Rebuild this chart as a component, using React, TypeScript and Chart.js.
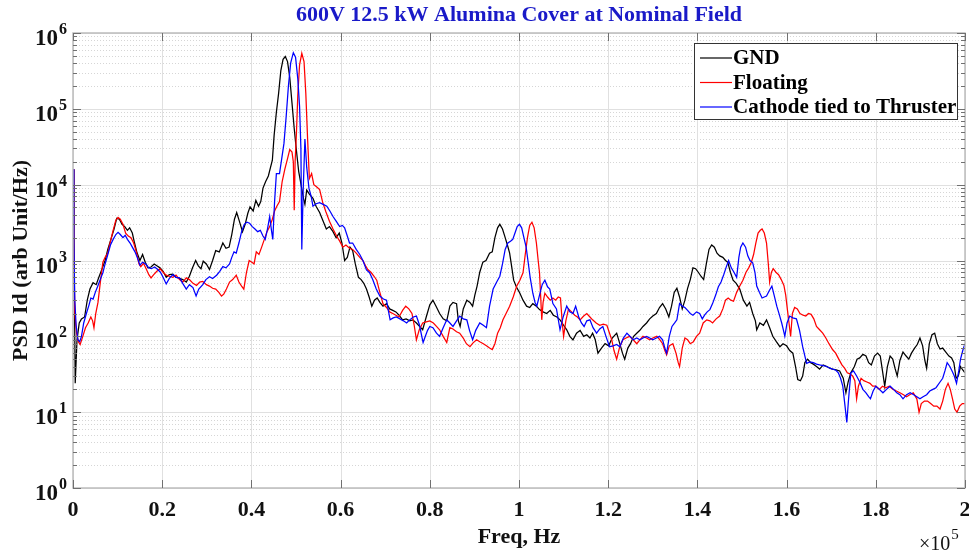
import React, { useEffect, useRef } from 'react';
import { Chart, registerables } from 'chart.js';

Chart.register(...registerables);

// ---- Data (frequency in units of 1e5 Hz, PSD in arb. units) ----
const gndFreq = [
  0, 0.002, 0.005, 0.009, 0.014, 0.019, 0.026, 0.032, 0.038, 0.045, 0.052, 0.058, 0.067, 0.072, 0.078, 0.085, 0.092, 0.098,
  0.104, 0.11, 0.116, 0.122, 0.127, 0.133, 0.138, 0.143, 0.15, 0.156, 0.162, 0.168, 0.175, 0.182, 0.188, 0.195, 0.202, 0.209,
  0.216, 0.224, 0.231, 0.239, 0.246, 0.254, 0.261, 0.268, 0.275, 0.281, 0.287, 0.292, 0.299, 0.306, 0.313, 0.32, 0.328, 0.336,
  0.343, 0.35, 0.356, 0.362, 0.367, 0.373, 0.38, 0.386, 0.392, 0.397, 0.404, 0.41, 0.416, 0.421, 0.426, 0.432, 0.438, 0.443,
  0.447, 0.451, 0.456, 0.461, 0.466, 0.471, 0.476, 0.481, 0.486, 0.491, 0.496, 0.501, 0.506, 0.512, 0.517, 0.52, 0.524, 0.53,
  0.538, 0.545, 0.553, 0.56, 0.568, 0.575, 0.583, 0.59, 0.597, 0.603, 0.609, 0.615, 0.621, 0.627, 0.633, 0.64, 0.646, 0.652,
  0.658, 0.664, 0.67, 0.676, 0.682, 0.688, 0.695, 0.703, 0.71, 0.717, 0.724, 0.731, 0.739, 0.747, 0.755, 0.762, 0.77, 0.777,
  0.784, 0.792, 0.8, 0.807, 0.814, 0.822, 0.83, 0.838, 0.845, 0.852, 0.86, 0.864, 0.868, 0.875, 0.883, 0.89, 0.896, 0.901,
  0.906, 0.912, 0.919, 0.926, 0.934, 0.94, 0.946, 0.952, 0.957, 0.963, 0.968, 0.974, 0.979, 0.984, 0.988, 0.994, 1.002, 1.009,
  1.017, 1.024, 1.031, 1.039, 1.046, 1.054, 1.062, 1.07, 1.077, 1.085, 1.092, 1.1, 1.107, 1.114, 1.121, 1.129, 1.137, 1.145,
  1.152, 1.159, 1.165, 1.171, 1.177, 1.185, 1.193, 1.201, 1.209, 1.219, 1.226, 1.232, 1.237, 1.244, 1.25, 1.257, 1.264, 1.271,
  1.278, 1.286, 1.293, 1.3, 1.308, 1.315, 1.322, 1.329, 1.336, 1.342, 1.348, 1.354, 1.36, 1.366, 1.372, 1.378, 1.384, 1.39,
  1.396, 1.402, 1.408, 1.414, 1.42, 1.426, 1.432, 1.438, 1.444, 1.45, 1.457, 1.463, 1.468, 1.474, 1.48, 1.487, 1.495, 1.503,
  1.511, 1.517, 1.524, 1.53, 1.533, 1.54, 1.548, 1.555, 1.562, 1.569, 1.577, 1.585, 1.592, 1.6, 1.607, 1.614, 1.62, 1.625,
  1.631, 1.636, 1.641, 1.647, 1.654, 1.66, 1.667, 1.674, 1.682, 1.69, 1.697, 1.703, 1.711, 1.719, 1.727, 1.733, 1.738, 1.744,
  1.752, 1.758, 1.764, 1.771, 1.778, 1.784, 1.79, 1.797, 1.804, 1.81, 1.815, 1.82, 1.826, 1.832, 1.838, 1.843, 1.848, 1.854,
  1.861, 1.868, 1.874, 1.88, 1.887, 1.893, 1.899, 1.905, 1.91, 1.914, 1.92, 1.926, 1.932, 1.938, 1.944, 1.95, 1.957, 1.964,
  1.97, 1.975, 1.98, 1.985, 1.99, 1.995, 2.0,
];
const gndPsd = [
  16000, 2000, 24, 90, 150, 170, 180, 300, 420, 510, 480, 600, 830, 1000, 1400, 1900, 2600, 3600,
  3500, 3000, 2800, 2500, 2700, 2300, 1700, 1300, 1000, 1200, 950, 800, 820, 900, 850, 800, 720, 600,
  650, 660, 600, 580, 560, 520, 620, 800, 1000, 850, 780, 980, 900, 760, 1000, 1350, 1300, 1700,
  1450, 1500, 2200, 3500, 4300, 3300, 2400, 3000, 4200, 5100, 4500, 6200, 5200, 6000, 9000, 11000, 13000, 17000,
  21000, 45000, 90000, 160000, 320000, 450000, 490000, 420000, 260000, 120000, 55000, 28000, 15000, 9500, 6500, 5500, 8500, 7500,
  6600, 5200, 4300, 3400, 2600, 2800, 2400, 2000, 2300, 1700, 1000, 1100, 1500, 1350, 900, 600, 560, 500,
  420, 330, 250, 300, 320, 280, 250, 270, 230, 220, 210, 190, 165, 170, 160, 165, 150, 135,
  122, 180, 260, 300, 250, 200, 170, 160, 250, 280, 270, 160, 135, 230, 300, 280, 250, 350,
  460, 700, 950, 1000, 1250, 1300, 2000, 2700, 3000, 2600, 2100, 1600, 1250, 800, 550, 450, 370, 300,
  250, 240, 270, 250, 225, 210, 200, 220, 190, 180, 165, 140, 122, 100, 90, 110, 120, 100,
  105, 95, 110, 90, 60, 70, 80, 75, 95, 110, 80, 60, 50, 70, 80, 100, 110, 120,
  135, 150, 170, 185, 200, 240, 270, 230, 180, 250, 380, 430, 330, 230, 300, 430, 560, 800,
  780, 700, 620, 560, 900, 1400, 1600, 1500, 1250, 1150, 1100, 1000, 950, 700, 550, 500, 420, 300,
  250, 280, 200, 160, 122, 150, 140, 165, 130, 100, 85, 73, 80, 75, 65, 60, 40, 27,
  26, 30, 45, 50, 45, 43, 40, 37, 42, 40, 38, 37, 36, 35, 28, 18, 25, 33,
  40, 50, 52, 58, 55, 45, 42, 55, 60, 55, 35, 22, 40, 55, 50, 38, 30, 48,
  62, 55, 50, 60, 70, 78, 95, 75, 48, 38, 80, 105, 110, 80, 68, 70, 62, 55,
  52, 45, 28, 30, 40, 36, 33,
];

const floatFreq = [
  0, 0.002, 0.004, 0.008, 0.012, 0.016, 0.022, 0.028, 0.034, 0.04, 0.044, 0.047, 0.051, 0.056, 0.061, 0.067, 0.072, 0.078,
  0.084, 0.09, 0.096, 0.101, 0.106, 0.112, 0.118, 0.124, 0.13, 0.136, 0.142, 0.148, 0.152, 0.158, 0.164, 0.17, 0.175, 0.181,
  0.188, 0.195, 0.202, 0.209, 0.216, 0.224, 0.231, 0.239, 0.246, 0.254, 0.261, 0.269, 0.277, 0.284, 0.291, 0.299, 0.306, 0.313,
  0.32, 0.327, 0.333, 0.338, 0.344, 0.351, 0.358, 0.366, 0.372, 0.378, 0.383, 0.389, 0.395, 0.401, 0.406, 0.411, 0.417, 0.423,
  0.429, 0.435, 0.441, 0.447, 0.452, 0.457, 0.463, 0.469, 0.475, 0.481, 0.486, 0.491, 0.494, 0.496, 0.498, 0.501, 0.504, 0.508,
  0.513, 0.518, 0.522, 0.526, 0.53, 0.535, 0.54, 0.546, 0.553, 0.56, 0.567, 0.575, 0.583, 0.591, 0.598, 0.605, 0.612, 0.62,
  0.627, 0.635, 0.643, 0.65, 0.656, 0.661, 0.668, 0.675, 0.681, 0.688, 0.695, 0.703, 0.71, 0.717, 0.724, 0.731, 0.739, 0.746,
  0.753, 0.76, 0.765, 0.77, 0.776, 0.784, 0.792, 0.8, 0.808, 0.815, 0.822, 0.83, 0.838, 0.845, 0.852, 0.86, 0.867, 0.875,
  0.882, 0.89, 0.897, 0.905, 0.912, 0.92, 0.927, 0.934, 0.94, 0.946, 0.952, 0.958, 0.964, 0.971, 0.979, 0.987, 0.995, 1.002,
  1.009, 1.014, 1.019, 1.024, 1.029, 1.034, 1.039, 1.043, 1.046, 1.049, 1.051, 1.054, 1.058, 1.064, 1.07, 1.076, 1.082, 1.088,
  1.093, 1.097, 1.1, 1.105, 1.111, 1.118, 1.125, 1.131, 1.137, 1.145, 1.152, 1.159, 1.165, 1.173, 1.181, 1.189, 1.197, 1.203,
  1.208, 1.213, 1.219, 1.225, 1.233, 1.24, 1.248, 1.256, 1.264, 1.271, 1.278, 1.286, 1.293, 1.3, 1.309, 1.316, 1.322, 1.327,
  1.331, 1.337, 1.345, 1.352, 1.357, 1.36, 1.366, 1.372, 1.378, 1.384, 1.391, 1.398, 1.405, 1.413, 1.421, 1.428, 1.434, 1.442,
  1.45, 1.457, 1.463, 1.469, 1.475, 1.481, 1.488, 1.495, 1.502, 1.509, 1.515, 1.521, 1.526, 1.531, 1.536, 1.541, 1.545, 1.55,
  1.555, 1.559, 1.562, 1.566, 1.57, 1.576, 1.582, 1.588, 1.594, 1.598, 1.602, 1.606, 1.609, 1.613, 1.618, 1.624, 1.63, 1.637,
  1.643, 1.649, 1.655, 1.661, 1.667, 1.674, 1.681, 1.688, 1.695, 1.703, 1.71, 1.717, 1.724, 1.73, 1.736, 1.742, 1.748, 1.753,
  1.757, 1.761, 1.767, 1.773, 1.78, 1.787, 1.793, 1.8, 1.808, 1.815, 1.822, 1.83, 1.838, 1.846, 1.854, 1.862, 1.869, 1.876,
  1.884, 1.892, 1.897, 1.902, 1.909, 1.916, 1.923, 1.93, 1.937, 1.944, 1.95, 1.956, 1.962, 1.967, 1.972, 1.977, 1.982, 1.988,
  1.994, 2.0,
];
const floatPsd = [
  16000, 1500, 200, 110, 85, 78, 100, 130, 150, 180, 160, 130, 200, 280, 500, 950, 1100, 1250,
  1800, 2500, 3400, 3700, 3500, 3000, 2300, 2100, 2000, 1700, 1300, 900, 830, 920, 780, 650, 590, 650,
  720, 780, 700, 640, 620, 600, 640, 560, 520, 590, 560, 500, 470, 520, 530, 480, 460, 430,
  420, 380, 340, 360, 420, 520, 560, 640, 520, 460, 420, 700, 1000, 950, 900, 1300, 1200, 1500,
  1900, 2400, 2800, 3500, 4500, 5200, 6000, 11000, 16000, 22000, 29000, 27000, 20000, 4600, 20000, 48000, 150000, 380000,
  540000, 420000, 160000, 40000, 12000, 14000, 10000, 9400, 8600, 5800, 4400, 3300, 2600, 2100, 1800, 1500, 1600, 1450,
  1400, 1250, 1100, 1000, 850, 760, 700, 620, 550, 380, 270, 240, 210, 200, 190, 180, 220, 250,
  230, 200, 140, 90, 120, 150, 155, 160, 150, 135, 122, 100, 83, 130, 125, 115, 110, 95,
  80, 73, 82, 90, 85, 80, 75, 70, 67, 80, 110, 130, 165, 200, 250, 330, 460, 550,
  690, 1200, 2000, 2900, 3200, 2700, 1700, 1000, 690, 300, 165, 280, 370, 330, 300, 320, 300, 330,
  320, 150, 100, 160, 230, 210, 190, 180, 165, 185, 200, 180, 165, 150, 140, 145, 140, 110,
  90, 65, 50, 70, 90, 95, 100, 90, 80, 90, 100, 95, 90, 95, 100, 90, 80, 65,
  57, 75, 80, 60, 45, 40, 70, 95, 90, 80, 85, 100, 110, 150, 165, 160, 150, 170,
  185, 230, 300, 320, 300, 290, 380, 460, 550, 700, 800, 950, 1200, 1700, 2300, 2500, 2600, 2300,
  1700, 900, 520, 700, 780, 700, 650, 560, 470, 350, 220, 140, 100, 200, 240, 230, 200, 190,
  185, 200, 195, 170, 135, 122, 110, 95, 80, 67, 60, 50, 42, 38, 33, 32, 30, 26,
  15, 22, 28, 26, 25, 24, 22, 22, 20, 22, 21, 22, 20, 19, 18, 17, 16, 17,
  18, 15, 10, 13, 14, 14, 13, 12, 12, 11, 14, 20, 24, 20, 15, 11, 10, 12,
  13, 13,
];

const cathFreq = [
  0, 0.002, 0.004, 0.007, 0.011, 0.015, 0.019, 0.024, 0.03, 0.036, 0.04, 0.045, 0.05, 0.055, 0.061, 0.067, 0.072, 0.078,
  0.084, 0.09, 0.096, 0.101, 0.106, 0.112, 0.117, 0.122, 0.128, 0.133, 0.139, 0.144, 0.15, 0.156, 0.163, 0.17, 0.176, 0.183,
  0.19, 0.196, 0.202, 0.209, 0.216, 0.224, 0.231, 0.239, 0.246, 0.254, 0.261, 0.269, 0.273, 0.276, 0.282, 0.291, 0.298, 0.306,
  0.313, 0.322, 0.329, 0.336, 0.343, 0.351, 0.356, 0.361, 0.366, 0.372, 0.378, 0.384, 0.39, 0.396, 0.402, 0.408, 0.414, 0.42,
  0.426, 0.431, 0.436, 0.441, 0.445, 0.448, 0.452, 0.456, 0.463, 0.468, 0.473, 0.478, 0.483, 0.488, 0.494, 0.499, 0.504, 0.508,
  0.511, 0.513, 0.516, 0.52, 0.524, 0.529, 0.534, 0.538, 0.545, 0.553, 0.561, 0.569, 0.576, 0.583, 0.59, 0.598, 0.604, 0.609,
  0.615, 0.62, 0.627, 0.635, 0.643, 0.65, 0.658, 0.665, 0.672, 0.68, 0.688, 0.696, 0.703, 0.707, 0.711, 0.718, 0.725, 0.733,
  0.741, 0.748, 0.755, 0.763, 0.77, 0.777, 0.782, 0.785, 0.79, 0.795, 0.8, 0.807, 0.815, 0.822, 0.83, 0.838, 0.845, 0.852,
  0.86, 0.867, 0.875, 0.883, 0.889, 0.896, 0.903, 0.912, 0.92, 0.927, 0.934, 0.942, 0.95, 0.957, 0.963, 0.969, 0.975, 0.981,
  0.986, 0.991, 0.996, 1.001, 1.006, 1.011, 1.016, 1.02, 1.025, 1.031, 1.036, 1.04, 1.046, 1.052, 1.058, 1.064, 1.069, 1.076,
  1.084, 1.092, 1.099, 1.107, 1.114, 1.121, 1.127, 1.134, 1.14, 1.146, 1.152, 1.159, 1.166, 1.174, 1.181, 1.188, 1.195, 1.203,
  1.211, 1.219, 1.226, 1.234, 1.242, 1.249, 1.256, 1.264, 1.271, 1.278, 1.286, 1.293, 1.3, 1.308, 1.315, 1.322, 1.327, 1.331,
  1.337, 1.343, 1.349, 1.354, 1.36, 1.366, 1.372, 1.378, 1.384, 1.39, 1.398, 1.405, 1.411, 1.416, 1.422, 1.428, 1.434, 1.441,
  1.447, 1.453, 1.459, 1.465, 1.47, 1.476, 1.482, 1.488, 1.493, 1.497, 1.502, 1.508, 1.513, 1.518, 1.524, 1.529, 1.533, 1.539,
  1.545, 1.55, 1.555, 1.561, 1.567, 1.572, 1.578, 1.584, 1.589, 1.593, 1.596, 1.601, 1.607, 1.614, 1.622, 1.629, 1.636, 1.641,
  1.645, 1.652, 1.66, 1.667, 1.674, 1.682, 1.69, 1.697, 1.703, 1.71, 1.716, 1.721, 1.726, 1.731, 1.735, 1.739, 1.744, 1.75,
  1.757, 1.764, 1.771, 1.778, 1.784, 1.788, 1.794, 1.8, 1.808, 1.816, 1.824, 1.832, 1.84, 1.847, 1.854, 1.861, 1.869, 1.877,
  1.885, 1.892, 1.899, 1.906, 1.914, 1.921, 1.928, 1.935, 1.944, 1.95, 1.955, 1.96, 1.966, 1.971, 1.976, 1.981, 1.986, 1.99,
  1.995, 2.0,
];
const cathPsd = [
  16000, 1800, 300, 140, 90, 85, 100, 150, 200, 260, 320, 310, 380, 450, 560, 690, 900, 1200,
  1600, 1900, 2200, 2350, 2200, 2000, 2150, 1900, 1700, 1500, 1300, 1100, 870, 950, 900, 800, 780, 820,
  760, 700, 600, 490, 580, 650, 600, 590, 500, 420, 480, 440, 380, 340, 420, 480, 560, 610,
  580, 640, 720, 830, 800, 900, 1100, 1300, 1250, 1700, 2400, 3000, 3200, 3100, 2800, 2600, 2400, 2500,
  2100, 1900, 2600, 3800, 2500, 1900, 6000, 14000, 14000, 22000, 35000, 80000, 200000, 400000, 550000, 480000, 250000, 107000,
  30000, 1400, 8000, 40000, 17000, 9000, 7000, 5200, 5600, 5800, 5500, 5200, 4500, 3800, 3300, 2800, 2900, 2700,
  2100, 1700, 1700, 1400, 1200, 1000, 750, 690, 560, 420, 340, 310, 300, 220, 165, 175, 180, 170,
  160, 150, 165, 180, 185, 140, 100, 83, 100, 120, 135, 130, 110, 100, 130, 165, 150, 135,
  160, 185, 170, 165, 120, 90, 120, 150, 140, 130, 250, 420, 520, 620, 900, 1400, 1700, 1800,
  1900, 2300, 2800, 3000, 2700, 2000, 1500, 1000, 600, 370, 280, 250, 350, 480, 550, 450, 420, 270,
  230, 122, 180, 250, 210, 200, 250, 180, 150, 135, 160, 165, 130, 110, 125, 135, 100, 73,
  75, 78, 73, 95, 110, 100, 90, 95, 90, 95, 100, 95, 90, 95, 100, 90, 70, 60,
  100, 135, 150, 165, 270, 250, 240, 220, 200, 190, 210, 200, 170, 190, 210, 225, 270, 350,
  450, 520, 650, 830, 1000, 800, 700, 600, 1100, 1500, 1700, 1500, 1150, 1000, 930, 700, 460, 380,
  320, 330, 340, 400, 460, 350, 250, 190, 150, 120, 100, 150, 185, 175, 170, 120, 73, 55,
  44, 46, 45, 43, 42, 41, 40, 38, 37, 36, 33, 28, 22, 12, 7.3, 15, 33, 35,
  30, 25, 20, 18, 16, 15, 19, 22, 20, 18, 20, 22, 20, 18, 17, 15, 17, 18,
  17, 16, 15, 16, 17, 19, 20, 21, 25, 28, 35, 45, 40, 35, 30, 24, 35, 50,
  65, 80,
];

// ---- Axis / label content ----
const xTickValues = [0, 0.2, 0.4, 0.6, 0.8, 1, 1.2, 1.4, 1.6, 1.8, 2];
const xTickLabels = ['0', '0.2', '0.4', '0.6', '0.8', '1', '1.2', '1.4', '1.6', '1.8', '2'];
const yDecadeValues = [1, 10, 100, 1000, 10000, 100000, 1000000];
const yDecadeExponents = ['0', '1', '2', '3', '4', '5', '6'];
const yMinorMultipliers = [2, 3, 4, 5, 6, 7, 8, 9];
const seriesNames = ['GND', 'Floating', 'Cathode tied to Thruster'];
const seriesColors = ['#000000', '#ff0000', '#0000ff'];
const chartTitle = '600V 12.5 kW Alumina Cover at Nominal Field';
const xAxisTitle = 'Freq, Hz';
const yAxisTitle = 'PSD Id (arb Unit/Hz)';
const xMultiplierBase = '×10';
const xMultiplierExp = '5';

const SERIF = '"Liberation Serif", "Times New Roman", serif';

const decorPlugin = {
  id: 'decor',
  beforeDatasetsDraw(chart: any) {
    const { ctx, chartArea } = chart;
    const { left, right, top, bottom } = chartArea;
    const xs = chart.scales.x;
    const ys = chart.scales.y;
    ctx.save();
    ctx.lineWidth = 1;
    // minor y grid (dotted)
    ctx.strokeStyle = '#d6d6d6';
    ctx.setLineDash([1, 2]);
    for (let i = 0; i < yDecadeValues.length - 1; i++) {
      for (const m of yMinorMultipliers) {
        const py = Math.round(ys.getPixelForValue(yDecadeValues[i] * m)) + 0.5;
        ctx.beginPath();
        ctx.moveTo(left, py);
        ctx.lineTo(right, py);
        ctx.stroke();
      }
    }
    ctx.setLineDash([]);
    ctx.strokeStyle = '#e0e0e0';
    for (const v of yDecadeValues) {
      const py = Math.round(ys.getPixelForValue(v)) + 0.5;
      ctx.beginPath();
      ctx.moveTo(left, py);
      ctx.lineTo(right, py);
      ctx.stroke();
    }
    for (const v of xTickValues) {
      const px = Math.round(xs.getPixelForValue(v)) + 0.5;
      ctx.beginPath();
      ctx.moveTo(px, top);
      ctx.lineTo(px, bottom);
      ctx.stroke();
    }
    ctx.restore();
  },
  afterDatasetsDraw(chart: any) {
    const { ctx, chartArea } = chart;
    const { left, right, top, bottom } = chartArea;
    const xs = chart.scales.x;
    const ys = chart.scales.y;
    ctx.save();
    // frame
    ctx.strokeStyle = '#bcbcbc';
    ctx.lineWidth = 1.5;
    ctx.strokeRect(left, top, right - left, bottom - top);
    // tick marks
    ctx.strokeStyle = '#707070';
    ctx.lineWidth = 1;
    for (const v of xTickValues) {
      const px = Math.round(xs.getPixelForValue(v)) + 0.5;
      ctx.beginPath();
      ctx.moveTo(px, bottom);
      ctx.lineTo(px, bottom - 8);
      ctx.moveTo(px, top);
      ctx.lineTo(px, top + 8);
      ctx.stroke();
    }
    for (let i = 0; i < yDecadeValues.length; i++) {
      const py = Math.round(ys.getPixelForValue(yDecadeValues[i])) + 0.5;
      ctx.beginPath();
      ctx.moveTo(left, py);
      ctx.lineTo(left + 8, py);
      ctx.moveTo(right, py);
      ctx.lineTo(right - 8, py);
      ctx.stroke();
      if (i < yDecadeValues.length - 1) {
        for (const m of yMinorMultipliers) {
          const pm = Math.round(ys.getPixelForValue(yDecadeValues[i] * m)) + 0.5;
          ctx.beginPath();
          ctx.moveTo(left, pm);
          ctx.lineTo(left + 4, pm);
          ctx.moveTo(right, pm);
          ctx.lineTo(right - 4, pm);
          ctx.stroke();
        }
      }
    }
    // y tick labels 10^n
    ctx.fillStyle = '#111';
    ctx.textAlign = 'left';
    ctx.textBaseline = 'alphabetic';
    for (let i = 0; i < yDecadeValues.length; i++) {
      const py = ys.getPixelForValue(yDecadeValues[i]);
      ctx.font = `bold 23px ${SERIF}`;
      ctx.fillText('10', 35, py + 12);
      const w = ctx.measureText('10').width;
      ctx.font = `bold 16px ${SERIF}`;
      ctx.fillText(yDecadeExponents[i], 35 + w + 1, py + 1);
    }
    // legend
    const bx = 694;
    const by = 43;
    const bw = 263;
    const bh = 76;
    ctx.fillStyle = '#ffffff';
    ctx.fillRect(bx, by, bw, bh);
    ctx.strokeStyle = '#333';
    ctx.lineWidth = 1;
    ctx.strokeRect(bx + 0.5, by + 0.5, bw, bh);
    ctx.font = `bold 21px ${SERIF}`;
    ctx.textBaseline = 'middle';
    for (let i = 0; i < seriesNames.length; i++) {
      const ry = by + 15 + i * 24.5;
      ctx.strokeStyle = seriesColors[i];
      ctx.lineWidth = 1.2;
      ctx.beginPath();
      ctx.moveTo(bx + 6, ry);
      ctx.lineTo(bx + 38, ry);
      ctx.stroke();
      ctx.fillStyle = '#000';
      ctx.fillText(seriesNames[i], bx + 39, ry + 1);
    }
    // title
    ctx.fillStyle = '#1a1ac8';
    ctx.font = `bold 22px ${SERIF}`;
    ctx.textAlign = 'center';
    ctx.textBaseline = 'alphabetic';
    ctx.fillText(chartTitle, (left + right) / 2, 21);
    // x multiplier
    ctx.fillStyle = '#111';
    ctx.textAlign = 'left';
    ctx.font = `20px ${SERIF}`;
    ctx.fillText(xMultiplierBase, 919, 550);
    const mw = ctx.measureText(xMultiplierBase).width;
    ctx.font = `15px ${SERIF}`;
    ctx.fillText(xMultiplierExp, 919 + mw + 1, 539);
    ctx.restore();
  },
};

export default function App() {
  const ref = useRef<HTMLCanvasElement>(null);
  useEffect(() => {
    const canvas = ref.current;
    if (!canvas) return;
    const mk = (f: number[], p: number[]) => f.map((x, i) => ({ x, y: p[i] }));
    const chart = new Chart(canvas, {
      type: 'line',
      data: {
        datasets: [
          { label: seriesNames[0], data: mk(gndFreq, gndPsd), borderColor: seriesColors[0], order: 2 },
          { label: seriesNames[1], data: mk(floatFreq, floatPsd), borderColor: seriesColors[1], order: 1 },
          { label: seriesNames[2], data: mk(cathFreq, cathPsd), borderColor: seriesColors[2], order: 0 },
        ],
      },
      options: {
        responsive: false,
        animation: false,
        devicePixelRatio: 1,
        events: [],
        layout: { padding: { top: 33, right: 4, left: 0, bottom: 0 } },
        elements: {
          point: { radius: 0 },
          line: { borderWidth: 1.25, tension: 0, fill: false },
        },
        plugins: {
          legend: { display: false },
          tooltip: { enabled: false },
          title: { display: false },
        },
        scales: {
          x: {
            type: 'linear',
            min: 0,
            max: 2,
            afterBuildTicks: (s: any) => {
              s.ticks = xTickValues.map((v) => ({ value: v }));
            },
            afterFit: (s: any) => {
              s.height = 68;
              s.paddingLeft = 0;
              s.paddingRight = 0;
            },
            grid: { display: false, drawTicks: false },
            border: { display: false },
            ticks: {
              autoSkip: false,
              maxRotation: 0,
              padding: 9,
              color: '#111',
              font: { family: SERIF, weight: 'bold', size: 22 },
              callback: (_v: any, i: number) => xTickLabels[i],
            },
            title: {
              display: true,
              text: xAxisTitle,
              color: '#111',
              font: { family: SERIF, weight: 'bold', size: 22 },
              padding: { top: 0, bottom: 5 },
            },
          },
          y: {
            type: 'logarithmic',
            min: 1,
            max: 1000000,
            afterBuildTicks: (s: any) => {
              s.ticks = yDecadeValues.map((v) => ({ value: v }));
            },
            afterFit: (s: any) => {
              s.width = 73;
              s.paddingTop = 0;
              s.paddingBottom = 0;
            },
            grid: { display: false, drawTicks: false },
            border: { display: false },
            ticks: { display: false },
            title: {
              display: true,
              text: yAxisTitle,
              color: '#111',
              font: { family: SERIF, weight: 'bold', size: 22 },
              padding: { top: 8, bottom: 0 },
            },
          },
        },
      } as any,
      plugins: [decorPlugin],
    });
    return () => chart.destroy();
  }, []);
  return (
    <div style={{ position: 'fixed', left: 0, top: 0, width: 969, height: 556, background: '#ffffff' }}>
      <canvas ref={ref} width={969} height={556} style={{ display: 'block', width: 969, height: 556 }} />
    </div>
  );
}
